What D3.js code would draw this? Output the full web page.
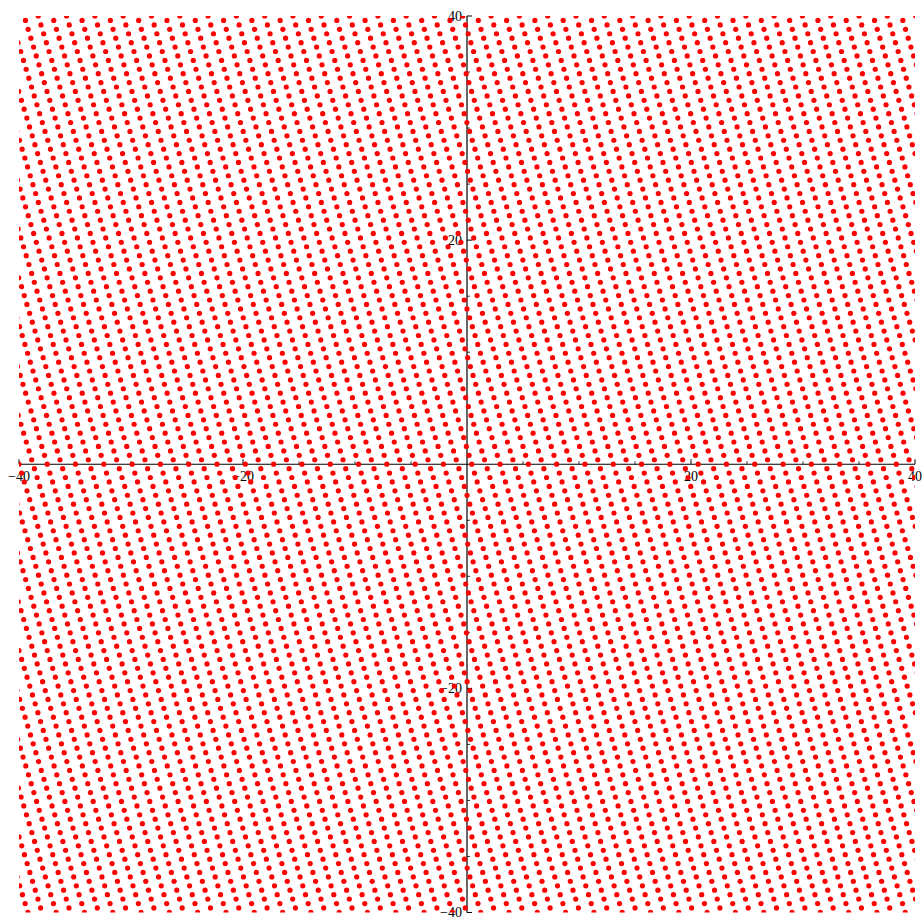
<!DOCTYPE html>
<html>
<head>
<meta charset="utf-8">
<script src="https://cdn.jsdelivr.net/npm/d3@7"></script>
<style>
  body { margin: 0; background: #fff; }
  .tick-label { font-family: "Liberation Serif", "DejaVu Serif", serif; font-size: 14px; fill: #000; }
</style>
</head>
<body>
<svg id="chart"></svg>
<script>
// axis ticks
const majorTicks = [-40, -20, 0, 20, 40];
const minorTicks = [-35, -30, -25, -15, -10, -5, 5, 10, 15, 25, 30, 35];

// point lattice (data units)
const latticeRowStep = [2.527, 0];        // spacing of dots along a row
const latticeNextRow = [1.384, -0.396];   // offset from one row to the next
const latticeAnchor = [-38.28, 40.0];     // one dot (top left)

const domain = [-40, 40];

const width = 922, height = 919;
const svg = d3.select("#chart").attr("width", width).attr("height", height);

const x = d3.scaleLinear().domain(domain).range([19, 915]);
const y = d3.scaleLinear().domain(domain).range([912.5, 16]);

// build the dots from the lattice vectors
const points = [];
for (let m = -10; m <= 220; m++) {
  for (let n = -120; n <= 120; n++) {
    const px = latticeAnchor[0] + n * latticeRowStep[0] + m * latticeNextRow[0];
    const py = latticeAnchor[1] + n * latticeRowStep[1] + m * latticeNextRow[1];
    if (px >= -40.5 && px <= 40.5 && py >= -40.5 && py <= 40.5) points.push([px, py]);
  }
}

svg.append("defs").append("clipPath").attr("id", "plot-clip")
  .append("rect")
  .attr("x", x(-40)).attr("y", y(40))
  .attr("width", x(40) - x(-40)).attr("height", y(-40) - y(40));

// axes through the origin
const axes = svg.append("g");
axes.append("line")
  .attr("x1", x(-40)).attr("x2", x(40))
  .attr("y1", y(0)).attr("y2", y(0))
  .attr("stroke", "#000").attr("stroke-width", 1.2);
axes.append("line")
  .attr("x1", x(0)).attr("x2", x(0))
  .attr("y1", y(-40)).attr("y2", y(40))
  .attr("stroke", "#000").attr("stroke-width", 1.2);

// x ticks point up, y ticks point right
axes.selectAll(".xmaj").data(majorTicks.filter(d => d !== 0)).join("line")
  .attr("x1", d => x(d)).attr("x2", d => x(d))
  .attr("y1", y(0)).attr("y2", y(0) - 5)
  .attr("stroke", "#000").attr("stroke-width", 1);
axes.selectAll(".xmin").data(minorTicks).join("line")
  .attr("x1", d => x(d)).attr("x2", d => x(d))
  .attr("y1", y(0)).attr("y2", y(0) - 3)
  .attr("stroke", "#000").attr("stroke-width", 0.8);
axes.selectAll(".ymaj").data(majorTicks.filter(d => d !== 0)).join("line")
  .attr("x1", x(0)).attr("x2", x(0) + 5)
  .attr("y1", d => y(d)).attr("y2", d => y(d))
  .attr("stroke", "#000").attr("stroke-width", 1);
axes.selectAll(".ymin").data(minorTicks).join("line")
  .attr("x1", x(0)).attr("x2", x(0) + 3)
  .attr("y1", d => y(d)).attr("y2", d => y(d))
  .attr("stroke", "#000").attr("stroke-width", 0.8);

const fmt = d => (d < 0 ? "\u2212" + Math.abs(d) : String(d));

axes.selectAll(".xlab").data(majorTicks.filter(d => d !== 0)).join("text")
  .attr("class", "tick-label")
  .attr("x", d => x(d)).attr("y", y(0) + 17)
  .attr("text-anchor", "middle")
  .text(fmt);
axes.selectAll(".ylab").data(majorTicks.filter(d => d !== 0)).join("text")
  .attr("class", "tick-label")
  .attr("x", x(0) - 5).attr("y", d => y(d))
  .attr("dy", "0.35em")
  .attr("text-anchor", "end")
  .text(fmt);

// dots
svg.append("g").attr("clip-path", "url(#plot-clip)")
  .selectAll("circle").data(points).join("circle")
  .attr("cx", d => x(d[0]))
  .attr("cy", d => y(d[1]))
  .attr("r", 2.6)
  .attr("fill", "#ff0000");
</script>
</body>
</html>
